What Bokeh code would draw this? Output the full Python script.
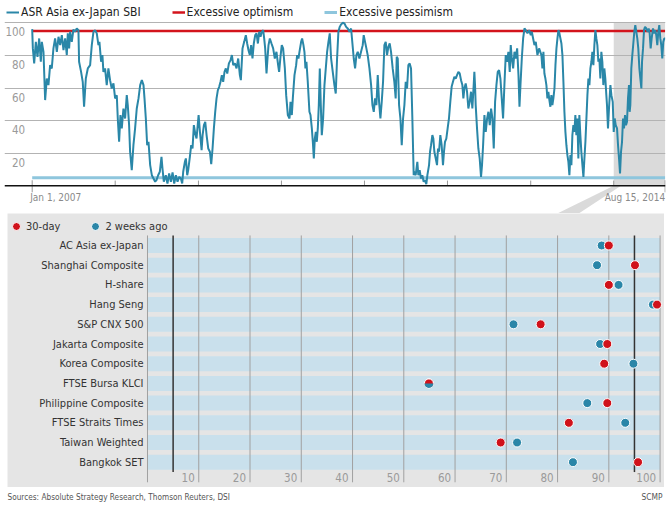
import datetime as dt
import numpy as np
from bokeh.plotting import figure
from bokeh.layouts import column, row
from bokeh.models import Range1d, Span, Grid, FixedTicker, Legend, LegendItem, Spacer
from bokeh.core.properties import value
from bokeh.embed import file_html
from bokeh.resources import INLINE

# ---------------- data: ASR Asia ex-Japan sentiment index ----------------
sbi_year = [
    2007.000, 2007.008, 2007.024, 2007.044, 2007.064, 2007.084, 2007.104, 2007.116, 2007.136, 2007.156,
    2007.176, 2007.196, 2007.216, 2007.236, 2007.256, 2007.276, 2007.297, 2007.317, 2007.337, 2007.357,
    2007.377, 2007.397, 2007.417, 2007.429, 2007.445, 2007.457, 2007.477, 2007.497, 2007.517, 2007.537,
    2007.557, 2007.565, 2007.589, 2007.609, 2007.625, 2007.646, 2007.670, 2007.698, 2007.718, 2007.738,
    2007.758, 2007.778, 2007.798, 2007.810, 2007.830, 2007.846, 2007.858, 2007.878, 2007.898, 2007.918,
    2007.938, 2007.958, 2007.979, 2007.999, 2008.019, 2008.031, 2008.047, 2008.063, 2008.079, 2008.099,
    2008.119, 2008.139, 2008.151, 2008.167, 2008.179, 2008.199, 2008.219, 2008.239, 2008.259, 2008.280,
    2008.300, 2008.320, 2008.340, 2008.352, 2008.368, 2008.384, 2008.400, 2008.420, 2008.440, 2008.480,
    2008.496, 2008.516, 2008.536, 2008.556, 2008.568, 2008.584, 2008.608, 2008.628, 2008.648, 2008.669,
    2008.689, 2008.709, 2008.729, 2008.749, 2008.769, 2008.789, 2008.805, 2008.817, 2008.837, 2008.849,
    2008.865, 2008.877, 2008.897, 2008.913, 2008.929, 2008.945, 2008.961, 2008.977, 2009.002, 2009.018,
    2009.038, 2009.050, 2009.066, 2009.082, 2009.098, 2009.118, 2009.138, 2009.154, 2009.170, 2009.186,
    2009.202, 2009.218, 2009.234, 2009.250, 2009.266, 2009.282, 2009.298, 2009.314, 2009.330, 2009.347,
    2009.367, 2009.387, 2009.403, 2009.419, 2009.439, 2009.459, 2009.479, 2009.499, 2009.511, 2009.531,
    2009.551, 2009.571, 2009.587, 2009.603, 2009.619, 2009.635, 2009.651, 2009.667, 2009.684, 2009.700,
    2009.716, 2009.732, 2009.748, 2009.764, 2009.780, 2009.792, 2009.804, 2009.820, 2009.832, 2009.844,
    2009.860, 2009.880, 2009.900, 2009.920, 2009.940, 2009.960, 2009.972, 2009.988, 2010.004, 2010.020,
    2010.041,
    2010.057, 2010.077, 2010.097, 2010.109, 2010.125, 2010.137, 2010.157, 2010.177, 2010.189, 2010.205,
    2010.217, 2010.237, 2010.249, 2010.265, 2010.277, 2010.289, 2010.301, 2010.317, 2010.337, 2010.350,
    2010.366, 2010.378, 2010.390, 2010.402, 2010.414, 2010.426, 2010.438, 2010.450, 2010.462, 2010.474,
    2010.486, 2010.502, 2010.518, 2010.534, 2010.550, 2010.566, 2010.582, 2010.598, 2010.618, 2010.638,
    2010.654, 2010.670, 2010.686, 2010.702, 2010.718, 2010.739, 2010.759, 2010.779, 2010.799, 2010.819,
    2010.839, 2010.855, 2010.871, 2010.887, 2010.903, 2010.919, 2010.939, 2010.959, 2010.979, 2010.991,
    2011.007, 2011.023, 2011.039, 2011.060, 2011.080, 2011.096, 2011.112, 2011.128, 2011.144, 2011.160,
    2011.176, 2011.192, 2011.208, 2011.224, 2011.240, 2011.256, 2011.272, 2011.288, 2011.304, 2011.320,
    2011.340, 2011.360, 2011.376, 2011.389, 2011.401, 2011.417, 2011.433, 2011.449, 2011.465, 2011.481,
    2011.497, 2011.513, 2011.529, 2011.545, 2011.561, 2011.577, 2011.593,
    2011.597, 2011.617, 2011.637, 2011.649, 2011.665, 2011.681, 2011.697, 2011.713, 2011.729, 2011.745,
    2011.758, 2011.778, 2011.790, 2011.802, 2011.818, 2011.830, 2011.842, 2011.858, 2011.874, 2011.886,
    2011.898, 2011.914, 2011.930, 2011.946, 2011.958, 2011.970, 2011.986, 2012.002, 2012.018, 2012.034,
    2012.050, 2012.066, 2012.083, 2012.099, 2012.115, 2012.131, 2012.147, 2012.163, 2012.179, 2012.191,
    2012.203, 2012.219, 2012.235, 2012.251, 2012.267, 2012.283, 2012.299, 2012.315, 2012.323, 2012.331,
    2012.339, 2012.355, 2012.371, 2012.387, 2012.403, 2012.415, 2012.428, 2012.444, 2012.460, 2012.476,
    2012.492, 2012.508, 2012.524, 2012.540, 2012.556, 2012.572, 2012.588, 2012.604, 2012.620, 2012.636,
    2012.652, 2012.668, 2012.684, 2012.700, 2012.716, 2012.732, 2012.748, 2012.760, 2012.773, 2012.789,
    2012.805, 2012.821, 2012.837, 2012.853, 2012.865, 2012.877, 2012.893, 2012.909, 2012.925, 2012.941,
    2012.961, 2012.981, 2013.001, 2013.013, 2013.029, 2013.045, 2013.061, 2013.081, 2013.101,
    2013.129, 2013.141, 2013.153, 2013.165, 2013.177, 2013.189, 2013.201, 2013.213, 2013.225, 2013.237,
    2013.249, 2013.261, 2013.273, 2013.286, 2013.298, 2013.310, 2013.322, 2013.334, 2013.346, 2013.358,
    2013.370, 2013.382, 2013.394, 2013.406, 2013.418, 2013.430, 2013.442, 2013.454, 2013.466, 2013.478,
    2013.490, 2013.502, 2013.514, 2013.526, 2013.538, 2013.550, 2013.562, 2013.574, 2013.586, 2013.598,
    2013.610, 2013.623, 2013.635, 2013.647, 2013.659, 2013.671, 2013.683, 2013.695, 2013.707, 2013.719,
    2013.731, 2013.743, 2013.755, 2013.767, 2013.779, 2013.791, 2013.803, 2013.815, 2013.827, 2013.839,
    2013.851, 2013.863, 2013.875, 2013.887, 2013.899, 2013.911, 2013.919, 2013.931, 2013.943, 2013.960,
    2013.972, 2013.988, 2014.000, 2014.012, 2014.024, 2014.040, 2014.052, 2014.064, 2014.076, 2014.088,
    2014.100, 2014.112, 2014.124, 2014.136, 2014.148, 2014.160, 2014.172, 2014.184, 2014.192, 2014.200,
    2014.212, 2014.224, 2014.236, 2014.248, 2014.260, 2014.272, 2014.284, 2014.296, 2014.309, 2014.321,
    2014.333, 2014.341, 2014.353, 2014.365, 2014.377, 2014.393, 2014.409, 2014.421, 2014.433, 2014.445,
    2014.457, 2014.473, 2014.489, 2014.501, 2014.513, 2014.525, 2014.537, 2014.549, 2014.561, 2014.573,
    2014.585, 2014.597, 2014.609, 2014.621,
]
sbi_value = [
    96.1, 84.3, 75.1, 88.3, 79.1, 90.4, 76.1, 88.3, 82.2, 52.6,
    65.8, 61.8, 74.0, 72.0, 84.3, 90.4, 82.2, 91.4, 86.3, 92.4,
    83.2, 90.4, 80.2, 93.5, 84.3, 94.5, 88.3, 95.9, 94.5, 96.5,
    95.5, 76.1, 69.9, 63.8, 48.5, 65.8, 72.0, 74.0, 86.3, 94.5,
    95.5, 93.5, 86.3, 88.3, 76.1, 80.2, 69.9, 72.0, 61.8, 72.0,
    64.8, 59.7, 62.8, 53.6, 55.6, 41.3, 27.0, 43.4, 35.2, 47.4,
    41.3, 55.6, 49.5, 37.2, 20.9, 9.6, 24.9, 35.2, 47.4, 53.6,
    61.8, 64.8, 61.8, 53.6, 41.3, 24.9, 27.0, 12.7, 6.5, 2.5,
    3.5, 6.5, 8.6, 17.8, 10.6, 2.5, 6.5, 1.4, 7.6, 2.5,
    8.2, 1.4, 6.5, 2.5, 5.5, 4.5, 1.4, 8.6, 14.7, 16.8,
    6.5, 9.6, 17.8, 24.9, 22.9, 37.2, 32.1, 29.0, 43.4, 33.1,
    21.9, 31.1, 37.2, 39.3, 31.1, 22.9, 20.9, 13.3, 22.9, 35.2,
    45.4, 53.6, 58.7, 60.7, 63.8, 67.9, 63.8, 69.9, 72.0, 68.9,
    75.1, 77.1, 80.2, 74.0, 75.1, 72.0, 78.1, 67.9, 64.8, 84.3,
    88.3, 92.4, 87.3, 83.2, 80.2, 86.3, 78.1, 87.3, 92.4, 93.5,
    87.3, 94.5, 91.4, 94.5, 95.5, 90.4, 84.3, 68.9, 78.1, 86.3,
    90.4, 87.3, 84.3, 78.1, 82.2, 74.0, 69.9, 79.1, 86.3, 84.3,
    72.0,
    55.6, 43.4, 41.3, 51.5, 43.4, 53.6, 67.9, 74.0, 80.2, 78.1,
    82.2, 88.3, 90.4, 86.3, 82.2, 72.0, 76.1, 63.8, 45.4, 43.4,
    35.2, 27.0, 16.8, 29.0, 33.1, 27.0, 35.2, 49.5, 72.0, 49.5,
    31.1, 41.3, 61.8, 72.0, 82.2, 88.3, 93.5, 78.1, 69.9, 61.8,
    56.6, 78.1, 94.5, 97.5, 99.0, 100.0, 99.6, 97.5, 96.5, 94.5,
    96.5, 87.3, 78.1, 72.0, 80.2, 82.2, 78.1, 82.2, 86.3, 92.4,
    88.3, 84.3, 80.2, 72.0, 61.8, 49.5, 45.4, 53.6, 49.5, 67.9,
    51.5, 41.3, 51.5, 63.8, 86.3, 88.3, 80.2, 85.3, 87.3, 82.2,
    72.0, 63.8, 53.6, 79.1, 78.1, 49.5, 41.3, 24.9, 41.3, 49.5,
    63.8, 59.7, 74.0, 75.1, 72.0, 41.3, 6.5,
    8.6, 6.5, 14.7, 6.5, 9.6, 4.5, 6.5, 2.5, 3.5, 1.0,
    6.5, 12.7, 20.9, 24.9, 31.1, 29.0, 20.9, 16.8, 12.7, 22.9,
    20.9, 31.1, 24.9, 12.7, 20.9, 27.0, 29.0, 35.2, 41.3, 51.5,
    60.7, 63.8, 66.9, 65.8, 67.9, 69.9, 68.9, 64.8, 61.8, 53.6,
    59.7, 62.8, 57.7, 47.4, 51.5, 57.7, 47.4, 61.8, 69.9, 61.8,
    49.5, 35.2, 22.9, 16.8, 5.5, 12.7, 24.9, 43.4, 33.1, 41.3,
    45.4, 37.2, 47.4, 41.3, 22.9, 51.5, 61.8, 69.9, 71.0, 65.8,
    53.6, 41.3, 61.8, 80.2, 76.1, 82.2, 69.9, 86.3, 78.1, 72.0,
    82.2, 78.1, 84.3, 67.9, 48.5, 61.8, 78.1, 90.4, 96.5, 95.5,
    93.5, 95.5, 92.4, 94.5, 90.4, 86.3, 88.3, 80.2, 84.3,
    80.2, 72.0, 82.2, 68.9, 65.8, 61.8, 53.6, 57.7, 52.6, 48.5,
    55.6, 49.5, 53.6, 59.7, 74.0, 84.3, 90.4, 95.5, 93.5, 90.4,
    87.3, 80.2, 63.8, 45.4, 33.1, 24.9, 18.8, 14.7, 6.5, 18.8,
    12.7, 31.1, 37.2, 33.1, 43.4, 31.1, 41.3, 16.8, 43.4, 31.1,
    20.9, 12.7, 5.5, 16.8, 27.0, 41.3, 55.6, 65.8, 61.8, 72.0,
    76.1, 82.2, 74.0, 86.3, 95.5, 90.4, 86.3, 76.1, 78.1, 65.8,
    82.2, 76.1, 61.8, 72.0, 65.8, 55.6, 49.5, 35.2, 47.4, 61.8,
    55.6, 51.5, 33.1, 41.3, 37.2, 35.2, 24.9, 16.8, 7.6, 20.9,
    27.0, 41.3, 35.2, 43.4, 37.2, 39.3, 53.6, 61.8, 45.4, 49.5,
    72.0, 80.2, 87.3, 94.5, 98.6, 94.5, 90.4, 84.3, 72.0, 65.8,
    59.7, 76.1, 84.3, 95.5, 97.5, 96.5, 94.5, 96.5, 93.5, 84.3,
    90.4, 96.5, 93.5, 95.5, 92.4, 86.3, 94.5, 98.6, 90.4, 86.3,
    78.1, 88.3, 90.4, 90.4,
]
optimism_level = 95
pessimism_level = 5
y_ticks = [20, 40, 60, 80, 100]
period_start = "2007-01-01"
period_end = "2014-08-15"
highlight_start = "2014-01-01"
date_labels = ["Jan 1, 2007", "Aug 15, 2014"]
year_marks = [2008, 2009, 2010, 2011, 2012, 2013, 2014]

# ---------------- data: markets, 30-day vs 2 weeks ago ----------------
categories = ["AC Asia ex-Japan", "Shanghai Composite", "H-share", "Hang Seng", "S&P CNX 500",
              "Jakarta Composite", "Korea Composite", "FTSE Bursa KLCI", "Philippine Composite",
              "FTSE Straits Times", "Taiwan Weighted", "Bangkok SET"]
day30 = [90.0, 95.1, 90.0, 99.4, 76.7, 89.7, 89.1, 54.9, 89.7, 82.2, 68.9, 95.7]
weeks2 = [88.6, 87.7, 91.9, 98.6, 71.4, 88.3, 94.8, 54.9, 85.8, 93.2, 72.1, 83.0]
x_ticks = [0, 10, 20, 30, 40, 50, 60, 70, 80, 90, 100]
thresholds = [5, 95]
source_note = "Sources: Absolute Strategy Research, Thomson Reuters, DSI"
credit = "SCMP"

# ---------------- styling ----------------
FONT_NAME = "DejaVu Sans Condensed, DejaVu Sans"
FONT = value(FONT_NAME)
TEAL = "#2a87a8"
RED = "#d3141c"
LIGHTBLUE = "#8ec6dd"
GRID = "#b3b3b3"
SHADE = "#dadada"
PANEL = "#e5e5e5"
BAND = "#c9e0ec"
DOT_RED = "#d0121b"
DOT_BLUE = "#2a86a8"
LABEL_GREY = "#9a9a9a"


def to_dt(y):
    yr = int(y)
    a = dt.datetime(yr, 1, 1)
    b = dt.datetime(yr + 1, 1, 1)
    return a + (b - a) * (y - yr)


n_pts = min(len(sbi_year), len(sbi_value))
sbi_dates = [to_dt(y) for y in sbi_year[:n_pts]]
sbi_vals = sbi_value[:n_pts]

series_start = dt.datetime.fromisoformat(period_start)
series_end = dt.datetime.fromisoformat(period_end)
hl_start = dt.datetime.fromisoformat(highlight_start)

W = 669
H1 = 213
H2 = 274
H3 = 18

# ================= top: time series =================
top = figure(width=W, height=H1, x_axis_type="datetime",
             x_range=Range1d(dt.datetime(2006, 9, 1, 6), dt.datetime(2014, 8, 16, 16)),
             y_range=Range1d(-16.99, 113.68),
             x_axis_location=None, y_axis_location=None,
             toolbar_location=None, output_backend="svg",
             min_border_left=4, min_border_right=4, min_border_top=0, min_border_bottom=0,
             outline_line_color=None,
             background_fill_color="white", border_fill_color="white")
top.grid.visible = False
top.add_layout(Grid(dimension=1, ticker=FixedTicker(ticks=y_ticks),
                    grid_line_color=GRID, grid_line_width=1))

shade = top.quad(left=[hl_start], right=[series_end], bottom=[0], top=[max(y_ticks)],
                 fill_color=SHADE, line_color=None)
shade.level = "image"
callout = top.patch(x=[hl_start, hl_start + dt.timedelta(days=32),
                       dt.datetime(2013, 6, 28), dt.datetime(2013, 3, 15)],
                    y=[0, 0, -20, -20], fill_color=SHADE, line_color=None)
callout.level = "image"

pes = top.line([series_start, series_end], [pessimism_level, pessimism_level],
               line_color=LIGHTBLUE, line_width=3)
opt = top.line([series_start, series_end], [optimism_level, optimism_level],
               line_color=RED, line_width=2.5)
main = top.line(sbi_dates, sbi_vals, line_color=TEAL, line_width=2)

top.add_layout(Span(location=0, dimension="width", line_color="#111111", line_width=1.5))

yt = [dt.datetime(y, 1, 1) for y in year_marks]
top.segment(x0=yt, y0=[0] * len(yt), x1=yt, y1=[3.2] * len(yt),
            line_color="#999999", line_width=1)
top.segment(x0=[series_start, series_end], y0=[-4, -4], x1=[series_start, series_end],
            y1=[3.4, 3.4], line_color="#999999", line_width=1)

top.text(x=[series_start] * len(y_ticks), y=y_ticks, text=[str(t) for t in y_ticks],
         text_align="right", text_baseline="middle", x_offset=-7, y_offset=9,
         text_font=FONT, text_font_size="11.5px", text_color=LABEL_GREY)
top.text(x=[series_start], y=[0], text=[date_labels[0]], text_align="left",
         text_baseline="middle", x_offset=-2, y_offset=12,
         text_font=FONT, text_font_size="10px", text_color="#8a8a8a")
top.text(x=[series_end], y=[0], text=[date_labels[1]], text_align="right",
         text_baseline="middle", x_offset=0, y_offset=12,
         text_font=FONT, text_font_size="10px", text_color="#8a8a8a")

leg = Legend(items=[LegendItem(label="ASR Asia ex-Japan SBI", renderers=[main]),
                    LegendItem(label="Excessive optimism", renderers=[opt]),
                    LegendItem(label="Excessive pessimism", renderers=[pes])],
             location=(2, H1 - 4 - 16), orientation="horizontal",
             glyph_width=13, glyph_height=16, label_standoff=2, spacing=31,
             padding=0, margin=0, background_fill_alpha=0, border_line_alpha=0,
             label_text_font=FONT_NAME, label_text_font_size="12px",
             label_text_color="#222222", label_height=16)
top.add_layout(leg)

# ================= bottom: dot plot =================
n = len(categories)
row_y = [-i for i in range(n)]
ROW = 19.7
y_hi = 32 / ROW
BW = 657
bot = figure(width=BW, height=H2,
             x_range=Range1d(-27.31, 100.86), y_range=Range1d(y_hi - H2 / ROW, y_hi),
             x_axis_location=None, y_axis_location=None,
             toolbar_location=None, output_backend="svg",
             min_border=0, outline_line_color=None,
             background_fill_color=PANEL, border_fill_color=PANEL)
bot.grid.visible = False

bot.hbar(y=row_y, left=x_ticks[0], right=x_ticks[-1], height=0.76,
         fill_color=BAND, line_color=None)
bot.segment(x0=x_ticks, y0=[0.51] * len(x_ticks), x1=x_ticks,
            y1=[-(n - 1) - 1.02] * len(x_ticks), line_color="#a0a0a0", line_width=1)
bot.segment(x0=thresholds, y0=[0.51] * 2, x1=thresholds, y1=[-(n - 1) - 0.5] * 2,
            line_color="#333333", line_width=1.5)

bot.text(x=x_ticks[1:], y=[-(n - 1) - 0.76] * (len(x_ticks) - 1),
         text=[str(t) for t in x_ticks[1:]], text_align="right", text_baseline="middle",
         x_offset=-4, text_font=FONT, text_font_size="11.5px", text_color=LABEL_GREY)
bot.text(x=[x_ticks[0]] * n, y=row_y, text=categories, text_align="right",
         text_baseline="middle", x_offset=-4, text_font=FONT, text_font_size="11px",
         text_color="#333333")

blue = bot.scatter(weeks2, row_y, size=9, fill_color=DOT_BLUE, line_color="white", line_width=1)
red = bot.scatter(day30, row_y, size=9, fill_color=DOT_RED, line_color="white", line_width=1)
ties = [i for i in range(n) if day30[i] == weeks2[i]]
if ties:
    bot.wedge(x=[weeks2[i] for i in ties], y=[row_y[i] for i in ties], radius=4.5,
              radius_units="screen", start_angle=np.pi, end_angle=2 * np.pi,
              fill_color=DOT_BLUE, line_color=None)

bleg = Legend(items=[LegendItem(label="30-day", renderers=[red]),
                     LegendItem(label="2 weeks ago", renderers=[blue])],
              location=(-1, H2 - 3 - 20), orientation="horizontal",
              glyph_width=20, glyph_height=20, label_standoff=0, spacing=25,
              padding=0, margin=0, background_fill_alpha=0, border_line_alpha=0,
              label_text_font=FONT_NAME, label_text_font_size="11px",
              label_text_color="#333333", label_height=20)
bot.add_layout(bleg)

# ================= footer =================
foot = figure(width=W, height=H3, x_range=Range1d(0, 1), y_range=Range1d(0, 1),
              x_axis_location=None, y_axis_location=None,
              toolbar_location=None, output_backend="svg",
              min_border=0, outline_line_color=None,
              background_fill_color="white", border_fill_color="white")
foot.grid.visible = False
foot.text(x=[0], y=[0.5], text=[source_note], text_align="left", text_baseline="middle",
          x_offset=3, text_font=FONT, text_font_size="8.2px", text_color="#555555")
foot.text(x=[1], y=[0.5], text=[credit], text_align="right", text_baseline="middle",
          x_offset=-3, text_font=FONT, text_font_size="8.3px", text_color="#555555")

layout = column(top, row(Spacer(width=7, height=H2), bot, spacing=0), foot, spacing=0)
open("out.html", "w").write(file_html(layout, INLINE))
